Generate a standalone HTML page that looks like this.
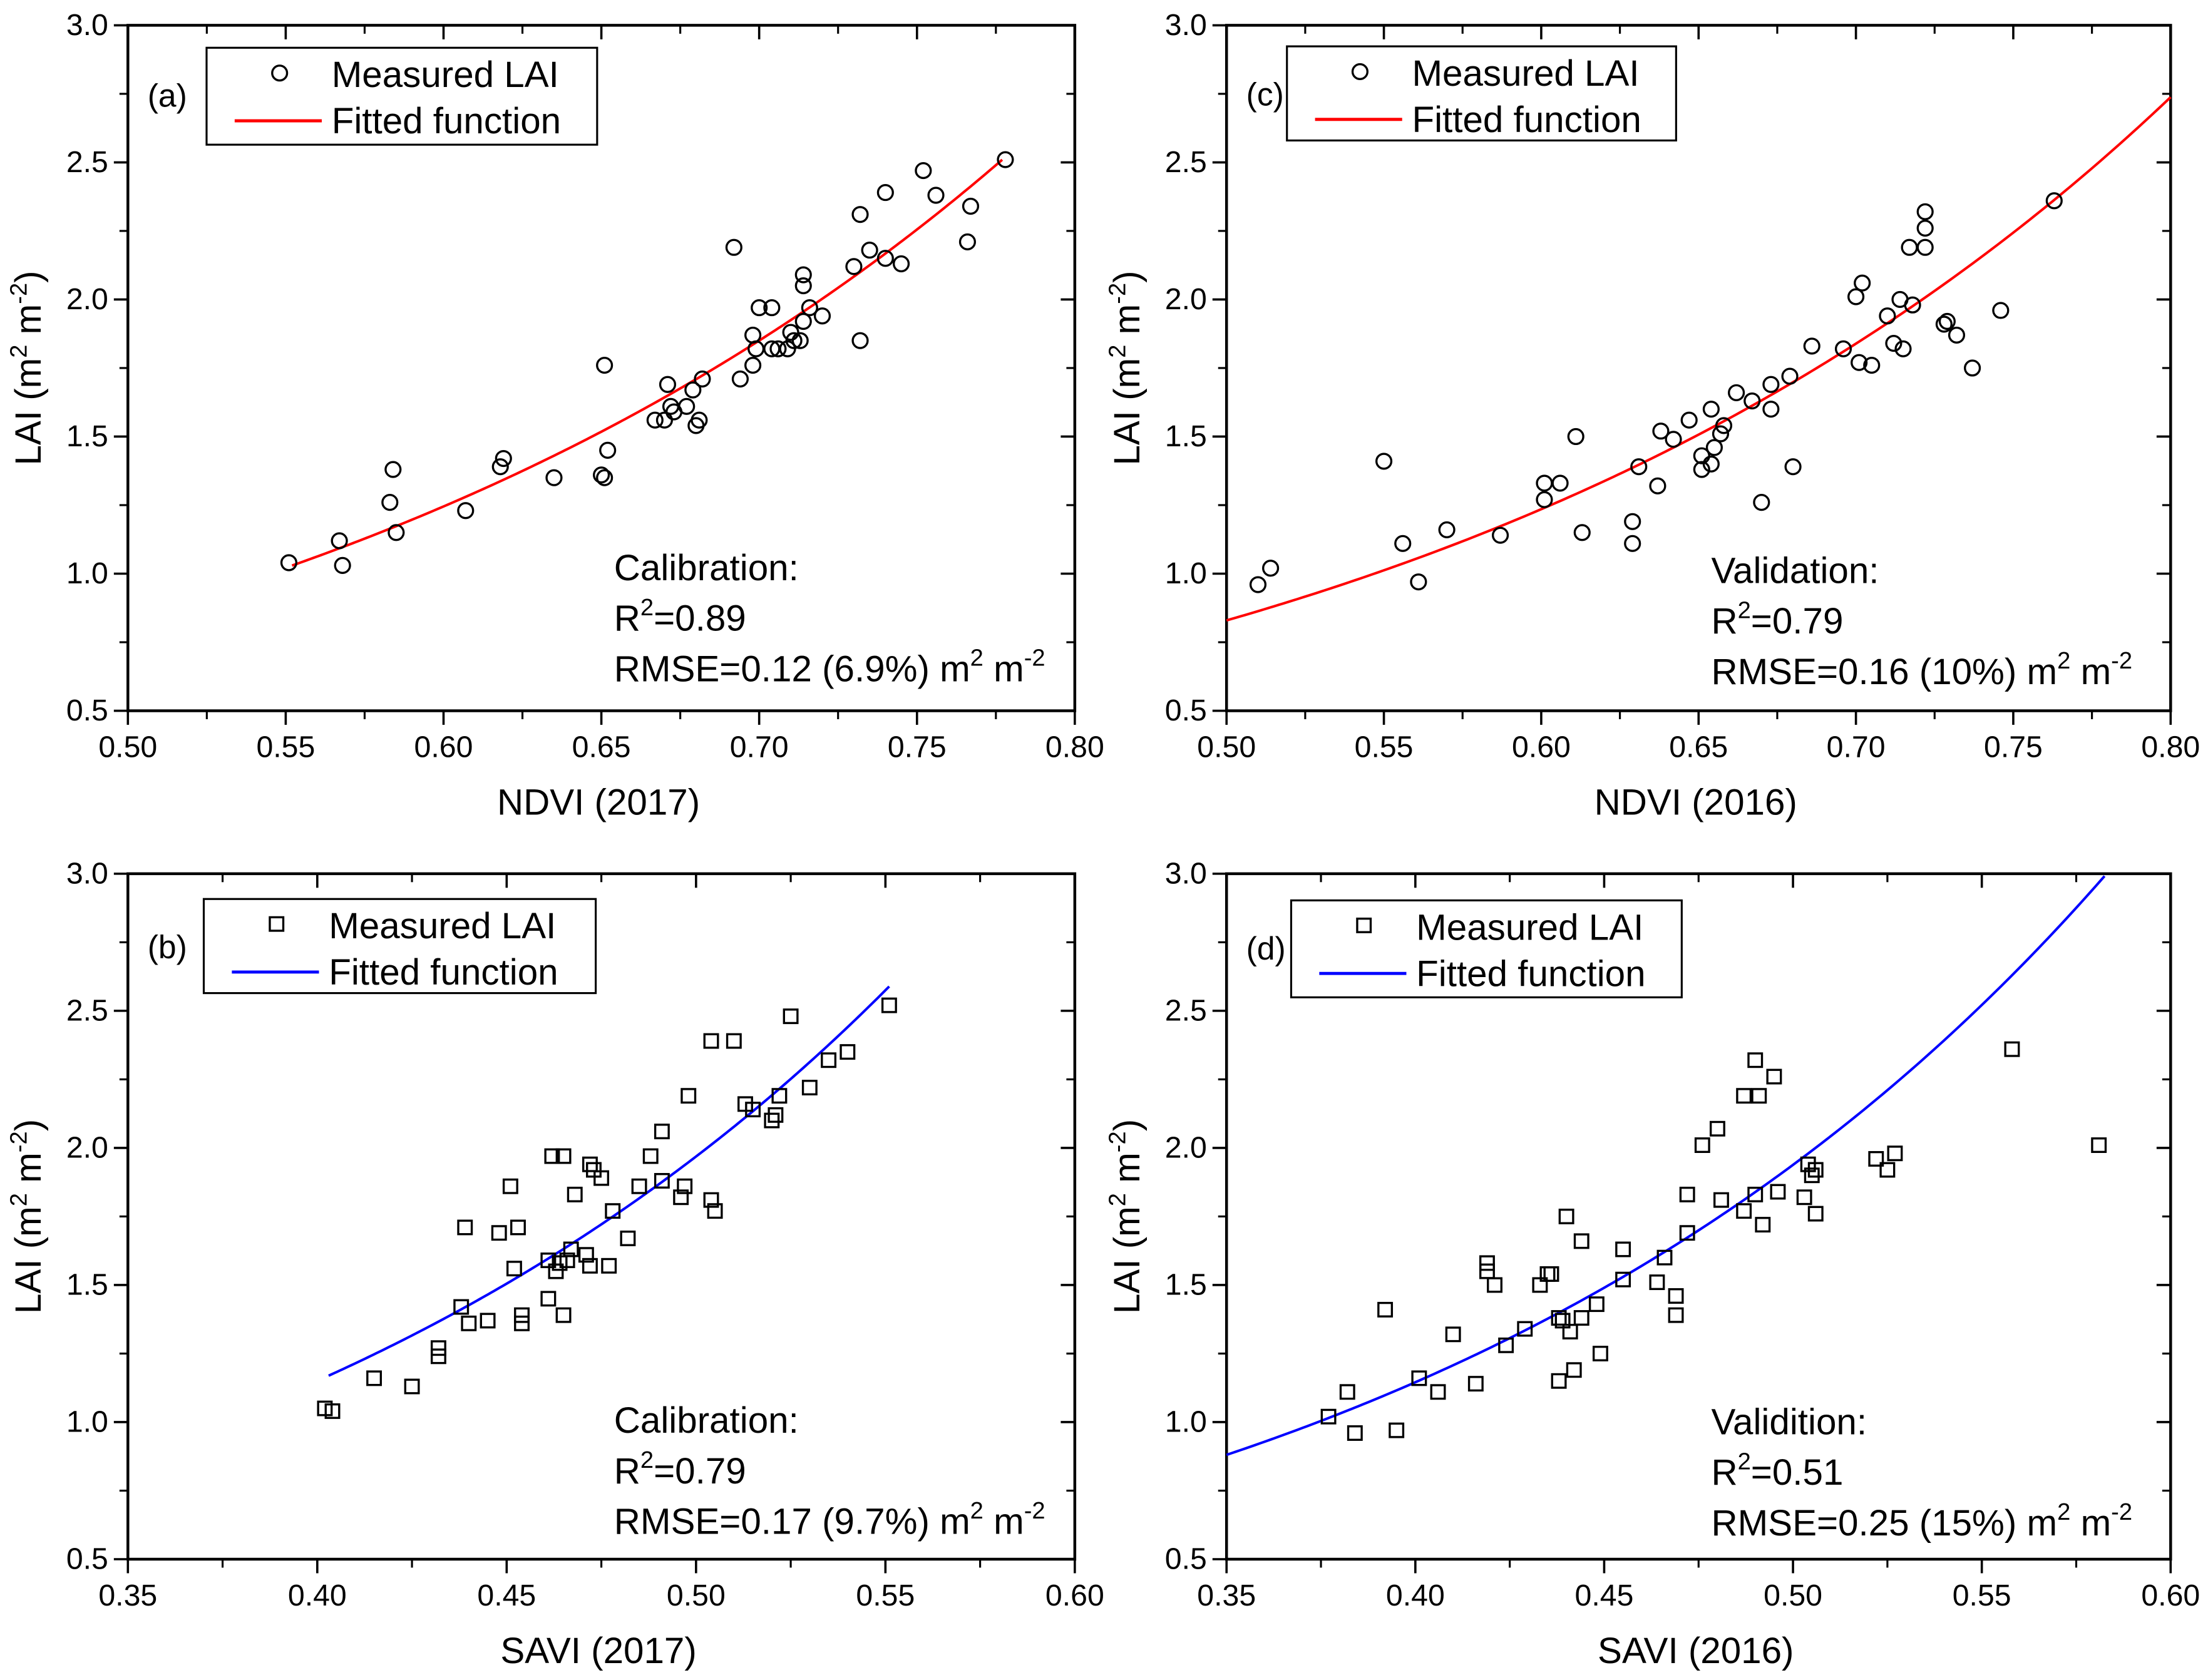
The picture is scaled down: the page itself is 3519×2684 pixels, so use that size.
<!DOCTYPE html>
<html><head><meta charset="utf-8"><style>
html,body{margin:0;padding:0;background:#fff;}
svg{display:block;font-family:"Liberation Sans",Arial,sans-serif;}
</style></head><body>
<svg id="fig" width="3519" height="2684" viewBox="0 0 1568 1196" xmlns="http://www.w3.org/2000/svg">
<rect width="1568" height="1196" fill="#fff"/>
</svg>
<script>
// Panel (a) NDVI 2017 calibration
const aX=[0.551,0.567,0.568,0.583,0.584,0.585,0.607,0.618,0.619,0.635,0.650,0.651,0.651,0.652,0.667,0.670,0.671,0.672,0.673,0.677,0.679,0.680,0.681,0.682,0.692,0.694,0.698,0.698,0.699,0.700,0.704,0.704,0.706,0.709,0.710,0.711,0.713,0.714,0.714,0.714,0.716,0.720,0.730,0.732,0.732,0.735,0.740,0.740,0.745,0.752,0.756,0.766,0.767,0.778];
const aY=[1.04,1.12,1.03,1.26,1.38,1.15,1.23,1.39,1.42,1.35,1.36,1.35,1.76,1.45,1.56,1.56,1.69,1.61,1.59,1.61,1.67,1.54,1.56,1.71,2.19,1.71,1.87,1.76,1.82,1.97,1.97,1.82,1.82,1.82,1.88,1.85,1.85,1.92,2.09,2.05,1.97,1.94,2.12,2.31,1.85,2.18,2.39,2.15,2.13,2.47,2.38,2.21,2.34,2.51];
// Panel (c) NDVI 2016 validation
const cX=[0.510,0.514,0.550,0.556,0.561,0.570,0.587,0.601,0.601,0.606,0.611,0.613,0.629,0.629,0.631,0.637,0.638,0.642,0.647,0.651,0.651,0.654,0.654,0.655,0.657,0.658,0.662,0.667,0.670,0.673,0.673,0.679,0.680,0.686,0.696,0.700,0.701,0.702,0.705,0.710,0.712,0.714,0.715,0.717,0.718,0.722,0.722,0.722,0.728,0.729,0.732,0.737,0.746,0.763];
const cY=[0.96,1.02,1.41,1.11,0.97,1.16,1.14,1.33,1.27,1.33,1.50,1.15,1.19,1.11,1.39,1.32,1.52,1.49,1.56,1.38,1.43,1.60,1.40,1.46,1.51,1.54,1.66,1.63,1.26,1.69,1.60,1.72,1.39,1.83,1.82,2.01,1.77,2.06,1.76,1.94,1.84,2.00,1.82,2.19,1.98,2.26,2.32,2.19,1.91,1.92,1.87,1.75,1.96,2.36];
// Panel (b) SAVI 2017 calibration
const bX=[0.402,0.404,0.415,0.425,0.432,0.432,0.438,0.439,0.440,0.445,0.448,0.451,0.452,0.453,0.454,0.454,0.461,0.461,0.462,0.463,0.464,0.465,0.465,0.466,0.468,0.467,0.471,0.472,0.472,0.473,0.475,0.477,0.478,0.482,0.485,0.488,0.491,0.491,0.496,0.497,0.498,0.504,0.504,0.505,0.510,0.513,0.515,0.520,0.521,0.522,0.525,0.530,0.535,0.540,0.551];
const bY=[1.05,1.04,1.16,1.13,1.27,1.24,1.42,1.71,1.36,1.37,1.69,1.86,1.56,1.71,1.39,1.36,1.45,1.59,1.97,1.55,1.58,1.39,1.97,1.59,1.83,1.63,1.61,1.94,1.57,1.92,1.89,1.57,1.77,1.67,1.86,1.97,1.88,2.06,1.82,1.86,2.19,2.39,1.81,1.77,2.39,2.16,2.14,2.10,2.12,2.19,2.48,2.22,2.32,2.35,2.52];
// Panel (d) SAVI 2016 validation
const dX=[0.377,0.382,0.384,0.392,0.395,0.401,0.406,0.410,0.416,0.419,0.419,0.421,0.424,0.429,0.433,0.435,0.436,0.438,0.438,0.439,0.440,0.441,0.442,0.444,0.444,0.448,0.449,0.455,0.455,0.464,0.466,0.469,0.469,0.472,0.472,0.476,0.480,0.481,0.487,0.487,0.490,0.490,0.491,0.492,0.495,0.496,0.503,0.504,0.505,0.506,0.506,0.522,0.525,0.527,0.558,0.581];
const dY=[1.02,1.11,0.96,1.41,0.97,1.16,1.11,1.32,1.14,1.58,1.55,1.50,1.28,1.34,1.50,1.54,1.54,1.38,1.15,1.37,1.75,1.33,1.19,1.66,1.38,1.43,1.25,1.52,1.63,1.51,1.60,1.46,1.39,1.69,1.83,2.01,2.07,1.81,1.77,2.19,1.83,2.32,2.19,1.72,2.26,1.84,1.82,1.94,1.90,1.92,1.76,1.96,1.92,1.98,2.36,2.01];
// Fit parameters y = A*exp(B*x)
const fitA=[0.1157,0.1134,0.1343,0.1397];
const fitB=[3.96,3.98,5.37,5.26];
const yTicks=[0.5,1.0,1.5,2.0,2.5,3.0];
const ndviTicks=[0.50,0.55,0.60,0.65,0.70,0.75,0.80];
const saviTicks=[0.35,0.40,0.45,0.50,0.55,0.60];

const NS="http://www.w3.org/2000/svg";
const svg=document.getElementById('fig');
function mk(tag,attrs,parent,text){const e=document.createElementNS(NS,tag);for(const k in attrs)e.setAttribute(k,attrs[k]);if(text!==undefined)e.textContent=text;(parent||svg).appendChild(e);return e;}

const FS=26, FT=21.5;
const panels=[
 {id:'a',x0:91,x1:765,y0:18,y1:506,xmin:0.5,xmax:0.8,xt:ndviTicks,xs:aX,ys:aY,fit:0,fr:[0.552,0.777],col:'#ff0000',mark:'circle',xl:'NDVI (2017)',lg:[147,34,278,69],ann:['Calibration:','0.89','RMSE=0.12 (6.9%) m'],ax:437,ay:413},
 {id:'c',x0:873,x1:1545,y0:18,y1:506,xmin:0.5,xmax:0.8,xt:ndviTicks,xs:cX,ys:cY,fit:1,fr:[0.5,0.8],col:'#ff0000',mark:'circle',xl:'NDVI (2016)',lg:[916,33,277,67],ann:['Validation:','0.79','RMSE=0.16 (10%) m'],ax:1218,ay:415},
 {id:'b',x0:91,x1:765,y0:622,y1:1110,xmin:0.35,xmax:0.6,xt:saviTicks,xs:bX,ys:bY,fit:2,fr:[0.403,0.551],col:'#0000ff',mark:'square',xl:'SAVI (2017)',lg:[145,640,279,67],ann:['Calibration:','0.79','RMSE=0.17 (9.7%) m'],ax:437,ay:1020},
 {id:'d',x0:873,x1:1545,y0:622,y1:1110,xmin:0.35,xmax:0.6,xt:saviTicks,xs:dX,ys:dY,fit:3,fr:[0.35,0.6],col:'#0000ff',mark:'square',xl:'SAVI (2016)',lg:[919,641,278,69],ann:['Validition:','0.51','RMSE=0.25 (15%) m'],ax:1218,ay:1021}
];

panels.forEach(p=>{
 const g=mk('g',{});
 
 
 const sx=v=>p.x0+(v-p.xmin)/(p.xmax-p.xmin)*(p.x1-p.x0);
 const sy=v=>p.y1-(v-0.5)/2.5*(p.y1-p.y0);
 const fr=mk('rect',{x:p.x0,y:p.y0,width:p.x1-p.x0,height:p.y1-p.y0,fill:'none',stroke:'#000','stroke-width':2},g);
 
 
 const step=0.05;
 p.xt.forEach((t,i)=>{
  const x=sx(t);
  mk('line',{x1:x,x2:x,y1:p.y1,y2:p.y1+10,stroke:'#000','stroke-width':1.6},g);
  mk('line',{x1:x,x2:x,y1:p.y0,y2:p.y0+10,stroke:'#000','stroke-width':1.6},g);
  const tl=mk('text',{x:x,y:p.y1+33,'font-size':FT,'text-anchor':'middle'},g,t.toFixed(2));
  
  
  if(i<p.xt.length-1){const xm=sx(t+step/2);
   mk('line',{x1:xm,x2:xm,y1:p.y1,y2:p.y1+6,stroke:'#000','stroke-width':1.4},g);
   mk('line',{x1:xm,x2:xm,y1:p.y0,y2:p.y0+6,stroke:'#000','stroke-width':1.4},g);}
 });
 yTicks.forEach((t,i)=>{
  const y=sy(t);
  mk('line',{x1:p.x0-10,x2:p.x0,y1:y,y2:y,stroke:'#000','stroke-width':1.6},g);
  mk('line',{x1:p.x1-10,x2:p.x1,y1:y,y2:y,stroke:'#000','stroke-width':1.6},g);
  const tl=mk('text',{x:p.x0-14,y:y+7,'font-size':FT,'text-anchor':'end'},g,t.toFixed(1));
  
  
  if(i<yTicks.length-1){const ym=sy(t+0.25);
   mk('line',{x1:p.x0-6,x2:p.x0,y1:ym,y2:ym,stroke:'#000','stroke-width':1.4},g);
   mk('line',{x1:p.x1-6,x2:p.x1,y1:ym,y2:ym,stroke:'#000','stroke-width':1.4},g);}
 });
 const xt=mk('text',{x:(p.x0+p.x1)/2-2,y:p.y1+74,'font-size':FS,'text-anchor':'middle'},g,p.xl);
 
 
 const yc=(p.y0+p.y1)/2, ytx=p.x0-62;
 const yt=mk('text',{x:ytx,y:yc,'font-size':FS,'text-anchor':'middle',transform:`rotate(-90 ${ytx} ${yc})`},g);
 
 
 mk('tspan',{},yt,'LAI  (m');mk('tspan',{dy:-10,'font-size':17},yt,'2');
 mk('tspan',{dy:10},yt,' m');mk('tspan',{dy:-10,'font-size':17},yt,'-2');mk('tspan',{dy:10},yt,')');
 const pts=[];
 const A=fitA[p.fit],B=fitB[p.fit];
 for(let k=0;k<=200;k++){const x=p.fr[0]+(p.fr[1]-p.fr[0])*k/200;const y=A*Math.exp(B*x);if(y>3.0)break;pts.push(sx(x).toFixed(2)+','+sy(y).toFixed(2));}
 const cv=mk('polyline',{points:pts.join(' '),fill:'none',stroke:p.col,'stroke-width':1.8},g);
 
 
 p.xs.forEach((xv,i)=>{
  const X=sx(xv),Y=sy(p.ys[i]);let m;
  if(p.mark==='circle') m=mk('circle',{cx:X,cy:Y,r:5.3,fill:'none',stroke:'#000','stroke-width':1.5},g);
  else m=mk('rect',{x:X-4.8,y:Y-4.8,width:9.6,height:9.6,fill:'none',stroke:'#000','stroke-width':1.5},g);
  
  
 });
 const pl=mk('text',{x:p.x0+14,y:p.lg[1]+42,'font-size':23},g,'('+p.id+')');
 
 
 const [lx,ly,lw,lh]=p.lg;
 const lgG=mk('g',{},g);
 
 
 mk('rect',{x:lx,y:ly,width:lw,height:lh,fill:'#fff',stroke:'#000','stroke-width':1.4},lgG);
 if(p.mark==='circle') mk('circle',{cx:lx+52,cy:ly+18,r:5.3,fill:'none',stroke:'#000','stroke-width':1.5},lgG);
 else mk('rect',{x:lx+47,y:ly+13,width:9.6,height:9.6,fill:'none',stroke:'#000','stroke-width':1.5},lgG);
 mk('line',{x1:lx+20,x2:lx+82,y1:ly+52,y2:ly+52,stroke:p.col,'stroke-width':2.2},lgG);
 const e1=mk('text',{x:lx+89,y:ly+28,'font-size':FS},lgG,'Measured LAI');
 
 
 const e2=mk('text',{x:lx+89,y:ly+61,'font-size':FS},lgG,'Fitted function');
 
 
 const an=mk('g',{},g);
 
 
 mk('text',{x:p.ax,y:p.ay,'font-size':FS},an,p.ann[0]);
 const r2=mk('text',{x:p.ax,y:p.ay+36,'font-size':FS},an);
 mk('tspan',{},r2,'R');mk('tspan',{dy:-11,'font-size':17},r2,'2');mk('tspan',{dy:11},r2,'='+p.ann[1]);
 const rm=mk('text',{x:p.ax,y:p.ay+72,'font-size':FS},an);
 mk('tspan',{},rm,p.ann[2]);mk('tspan',{dy:-11,'font-size':17},rm,'2');mk('tspan',{dy:11},rm,' m');mk('tspan',{dy:-11,'font-size':17},rm,'-2');
});
</script>
</body></html>
